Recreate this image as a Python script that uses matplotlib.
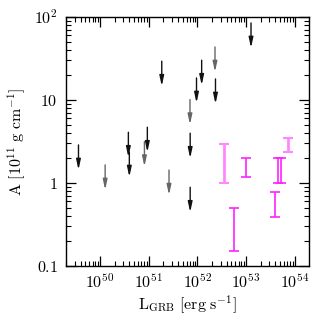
import numpy as np
import matplotlib
matplotlib.use("Agg")
import matplotlib.pyplot as plt

plt.rcParams['mathtext.fontset'] = 'cm'
plt.rcParams['font.family'] = 'serif'
plt.rcParams['font.serif'] = ['DejaVu Serif']

# upper limits (arrows): L_GRB [erg/s], A [1e11 g/cm]
lim_L = 10 ** np.array([49.555, 50.103, 50.58, 50.60, 50.97, 50.91, 51.415, 51.266,
                        52.086, 51.98, 51.846, 51.85, 51.85, 52.36, 52.37, 53.10])
lim_A = np.array([2.87, 1.65, 4.08, 2.36, 4.69, 3.15, 1.43, 29.3,
                  30.1, 18.4, 10.1, 3.97, 0.887, 43.5, 17.9, 84.7])
lim_grey = [False, True, False, False, False, True, True, False,
            False, False, True, False, False, True, False, False]

# measured ranges (magenta bars)
bar_L = 10 ** np.array([53.0, 53.657, 53.713, 52.755, 53.59])
bar_lo = np.array([1.19, 0.99, 0.99, 0.152, 0.393])
bar_hi = np.array([1.99, 1.99, 1.99, 0.495, 0.785])
# lighter ones
pale_L = 10 ** np.array([52.544, 53.85])
pale_lo = np.array([0.99, 2.36])
pale_hi = np.array([2.97, 3.46])

fig = plt.figure(figsize=(3.32, 3.32), dpi=100)
ax = fig.add_axes([0.199, 0.199, 0.733, 0.75])
ax.set_xscale('log')
ax.set_yscale('log')
ax.set_xlim(10 ** 49.3, 10 ** 54.3)
ax.set_ylim(0.1, 100)

for L, A, g in zip(lim_L, lim_A, lim_grey):
    c = '#666666' if g else '#111111'
    ax.annotate('', xy=(L, A / 2.0), xytext=(L, A),
                arrowprops=dict(arrowstyle='-|>,head_width=0.13,head_length=0.6',
                                color=c, lw=1.0, shrinkA=0, shrinkB=0))

bar_mid = np.sqrt(bar_lo * bar_hi)
ax.errorbar(bar_L, bar_mid, yerr=[bar_mid - bar_lo, bar_hi - bar_mid], fmt='none',
            ecolor='#ff22ff', elinewidth=1.2, capsize=3.5, capthick=1.2)
pale_mid = np.sqrt(pale_lo * pale_hi)
ax.errorbar(pale_L, pale_mid, yerr=[pale_mid - pale_lo, pale_hi - pale_mid], fmt='none',
            ecolor='#ff88ff', elinewidth=2.0, capsize=3.5, capthick=1.5)

ax.set_xticks([1e50, 1e51, 1e52, 1e53, 1e54])
ax.set_xticklabels(['$10^{50}$', '$10^{51}$', '$10^{52}$', '$10^{53}$', '$10^{54}$'])
ax.set_yticks([0.1, 1, 10, 100])
ax.set_yticklabels(['$0.1$', '$1$', '$10$', '$10^{2}$'])
ax.tick_params(which='both', direction='in', top=True, right=True, labelsize=11.5)
ax.tick_params(which='major', length=7, width=0.9)
ax.tick_params(which='minor', length=3.5, width=0.8)
ax.tick_params(axis='x', pad=5)
ax.tick_params(axis='y', pad=6)
for s in ax.spines.values():
    s.set_linewidth(1.0)

ax.set_xlabel(r'$\mathrm{L}_{\mathrm{GRB}}\ [\mathrm{erg\ s}^{-1}]$', fontsize=11.5, labelpad=2)
ax.set_ylabel(r'$\mathrm{A}\ [10^{11}\ \mathrm{g\ cm}^{-1}]$', fontsize=11.5, labelpad=4)

plt.savefig('out.png', dpi=100)
